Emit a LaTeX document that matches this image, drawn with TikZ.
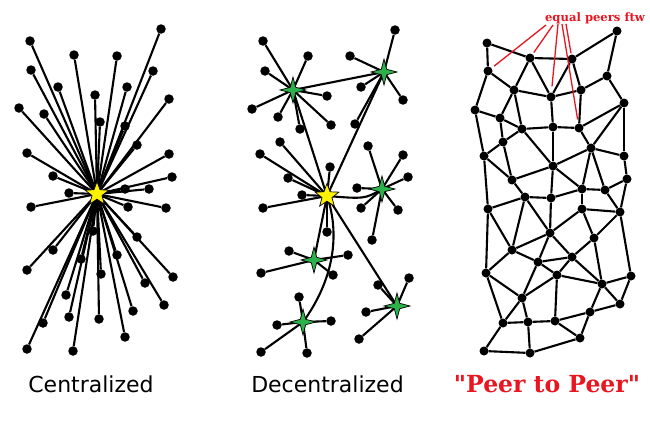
\documentclass[tikz,border=0pt]{standalone}
\usepackage{fontspec}
\usetikzlibrary{shapes.geometric}
\newfontfamily\labelfont{DejaVu Sans}
\newfontfamily\slabfont{DejaVu Serif}
\definecolor{starGreen}{RGB}{45,178,75}
\definecolor{peerRed}{RGB}{232,22,32}
\tikzset{
  dot/.style={circle, fill=black, inner sep=0pt, minimum size=9.5pt},
  mdot/.style={circle, fill=black, inner sep=0pt, minimum size=9pt},
  edge/.style={line width=2.1pt},
  redline/.style={draw=peerRed, line width=1.3pt},
  ystar/.style={star, star points=5, star point ratio=2.4, minimum size=25pt, inner sep=0pt, fill=yellow, draw=black, line width=0.7pt},
  gstar/.style={star, star points=4, star point ratio=3.4, minimum size=26pt, inner sep=0pt, fill=starGreen, draw=black, line width=0.7pt},
  lbl/.style={anchor=base, inner sep=0pt, font=\labelfont\fontsize{22}{26}\selectfont},
}
\begin{document}
\begin{tikzpicture}[x=1pt, y=-1pt]
\useasboundingbox[fill=white] (0,0) rectangle (650,423);

% ---------------- Centralized ----------------
\coordinate (C0) at (97,194);
\foreach \n/\p in {c1/{30,41}, c2/{161,29}, c3/{74,55}, c4/{117,56}, c5/{31,70}, c6/{153,71},
  c7/{58,87}, c8/{127,87}, c9/{95,95}, c10/{19,108}, c11/{44,114}, c12/{169,99}, c13/{100,122},
  c14/{125,126}, c15/{137,145}, c16/{27,153}, c17/{169,154}, c18/{53,176}, c19/{172,177},
  c20/{69,193}, c21/{149,189}, c22/{125,189}, c23/{31,207}, c24/{128,207}, c25/{166,208},
  c26/{137,237}, c27/{53,250}, c28/{27,270}, c29/{81,259}, c30/{117,255}, c31/{173,277},
  c32/{101,274}, c33/{145,283}, c34/{66,295}, c35/{164,305}, c36/{43,323}, c37/{69,317},
  c38/{99,319}, c39/{133,311}, c40/{27,349}, c41/{73,351}, c42/{125,337}, c43/{93,231}}
  { \node[dot] (\n) at (\p) {}; \draw[edge] (C0) -- (\n); }
\node[ystar] (centralstar) at (C0) {};

% ---------------- Decentralized ----------------
\coordinate (A) at (293,90);
\coordinate (B) at (384,72);
\coordinate (Y) at (327,196);
\coordinate (K) at (382,189);
\coordinate (D) at (314,260);
\coordinate (E) at (397,306);
\coordinate (F) at (303,322);
\foreach \h/\n/\p in {A/a1/{263,41}, A/a2/{308,56}, A/a3/{265,71}, A/a4/{327,96}, A/a5/{252,109},
  A/a6/{278,117}, A/a7/{300,129}, A/a8/{331,125},
  B/b1/{395,30}, B/b2/{350,56}, B/b3/{361,87}, B/b4/{403,100}, B/b5/{355,124},
  Y/y1/{280,142}, Y/y2/{260,154}, Y/y3/{330,167}, Y/y4/{288,178}, Y/y5/{302,195}, Y/y6/{263,208}, Y/y7/{327,232},
  K/k1/{368,146}, K/k2/{403,155}, K/k3/{357,188}, K/k4/{408,177}, K/k5/{361,208}, K/k6/{398,210}, K/k7/{372,240},
  D/d1/{289,251}, D/d2/{348,255}, D/d3/{261,273}, D/d4/{333,275},
  E/e1/{378,285}, E/e2/{409,278}, E/e3/{366,312}, E/e4/{359,339},
  F/f1/{299,297}, F/f2/{277,325}, F/f3/{331,321}, F/f4/{261,352}, F/f5/{307,353}}
  { \node[dot] (\n) at (\p) {}; \draw[edge] (\h) -- (\n); }
\draw[edge] (A) -- (B);
\draw[edge] (A) -- (Y);
\draw[edge] (B) -- (Y);
\draw[edge] (Y) .. controls (365,199) .. (K);
\draw[edge] (Y) -- (D);
\draw[edge] (Y) -- (E);
\draw[edge] (Y) .. controls (342,240) and (330,285) .. (F);
\node[gstar] (hubA) at (A) {};
\node[gstar] (hubB) at (B) {};
\node[gstar] (hubK) at (K) {};
\node[gstar] (hubD) at (D) {};
\node[gstar] (hubE) at (E) {};
\node[gstar] (hubF) at (F) {};
\node[ystar] (hubY) at (Y) {};

% ---------------- Peer to Peer ----------------
\foreach \n/\p in {n1/{487,43}, n2/{617,31}, n3/{530,58}, n4/{572,59}, n5/{488,71}, n6/{607,76},
  n7/{514,90}, n8/{551,97}, n9/{581,90}, n10/{624,103}, n11/{475,110}, n12/{500,118},
  n13/{522,129}, n14/{553,127}, n15/{579,128}, n16/{591,148}, n17/{503,142}, n18/{484,156},
  n19/{624,156}, n20/{553,166}, n21/{512,180}, n22/{627,179}, n23/{582,189}, n24/{605,190},
  n25/{525,197}, n26/{551,198}, n27/{488,209}, n28/{582,209}, n29/{620,212}, n30/{550,233},
  n31/{594,238}, n32/{512,250}, n33/{538,262}, n34/{572,257}, n35/{486,273}, n36/{557,275},
  n37/{631,276}, n38/{602,284}, n39/{522,298}, n40/{620,304}, n41/{590,312}, n42/{503,323},
  n43/{528,322}, n44/{555,321}, n45/{580,338}, n46/{484,351}, n47/{530,353}}
  { \node[mdot] (\n) at (\p) {}; }
\foreach \a/\b in {n1/n5, n1/n3, n3/n4, n4/n2, n2/n6, n5/n7, n5/n11, n3/n7, n3/n8, n4/n8,
  n4/n9, n7/n8, n8/n9, n6/n9, n6/n10, n7/n12, n7/n13, n8/n14, n9/n15, n10/n15, n10/n16, n10/n19,
  n11/n12, n11/n18, n12/n13, n12/n17, n13/n14, n13/n17, n13/n20, n14/n15, n14/n20, n15/n16,
  n16/n20, n16/n19, n16/n23, n16/n24, n17/n18, n17/n21, n18/n21, n18/n27, n19/n22, n20/n21,
  n20/n23, n20/n26, n22/n24, n22/n29, n21/n25, n25/n26, n26/n23, n23/n24, n23/n28, n24/n29,
  n28/n29, n27/n25, n27/n35, n27/n32, n25/n30, n25/n32, n26/n30, n28/n30, n28/n31, n29/n31,
  n29/n37, n30/n32, n30/n33, n30/n34, n31/n34, n31/n38, n32/n33, n32/n35, n33/n34, n33/n36,
  n34/n36, n34/n38, n33/n39, n35/n39, n35/n42, n36/n39, n36/n38, n36/n44, n37/n38, n37/n40,
  n38/n40, n38/n41, n39/n42, n39/n43, n42/n43, n43/n44, n44/n41, n41/n40, n44/n45, n41/n45,
  n42/n46, n43/n47, n46/n47, n47/n45}
  { \draw[edge] (\a) -- (\b); }

% annotation
\node[anchor=base, inner sep=0pt, text=peerRed, font=\slabfont\bfseries\fontsize{11.6}{13}\selectfont] (ftw) at (595,21) {equal peers ftw};
\coordinate (r1) at (546,25);
\coordinate (r2) at (553,25);
\coordinate (r3) at (558,24);
\coordinate (r4) at (562,24);
\coordinate (r5) at (566,24);
\draw[redline, shorten >=3pt] (r1) -- (n5);
\draw[redline, shorten >=2pt] (r2) -- (n3);
\draw[redline, shorten >=6pt] (r3) -- (n8);
\draw[redline, shorten >=4pt] (r4) -- (n15);
\draw[redline, shorten >=1pt] (r5) -- (n4);

% ---------------- Labels ----------------
\node[lbl] (lcentral) at (91,392) {Centralized};
\node[lbl] (ldecentral) at (327.5,392) {Decentralized};
\node[anchor=base, inner sep=0pt, text=peerRed, font=\slabfont\bfseries\fontsize{23.5}{27}\selectfont] (lpeer) at (547,392) {"Peer to Peer"};
\end{tikzpicture}
\end{document}
